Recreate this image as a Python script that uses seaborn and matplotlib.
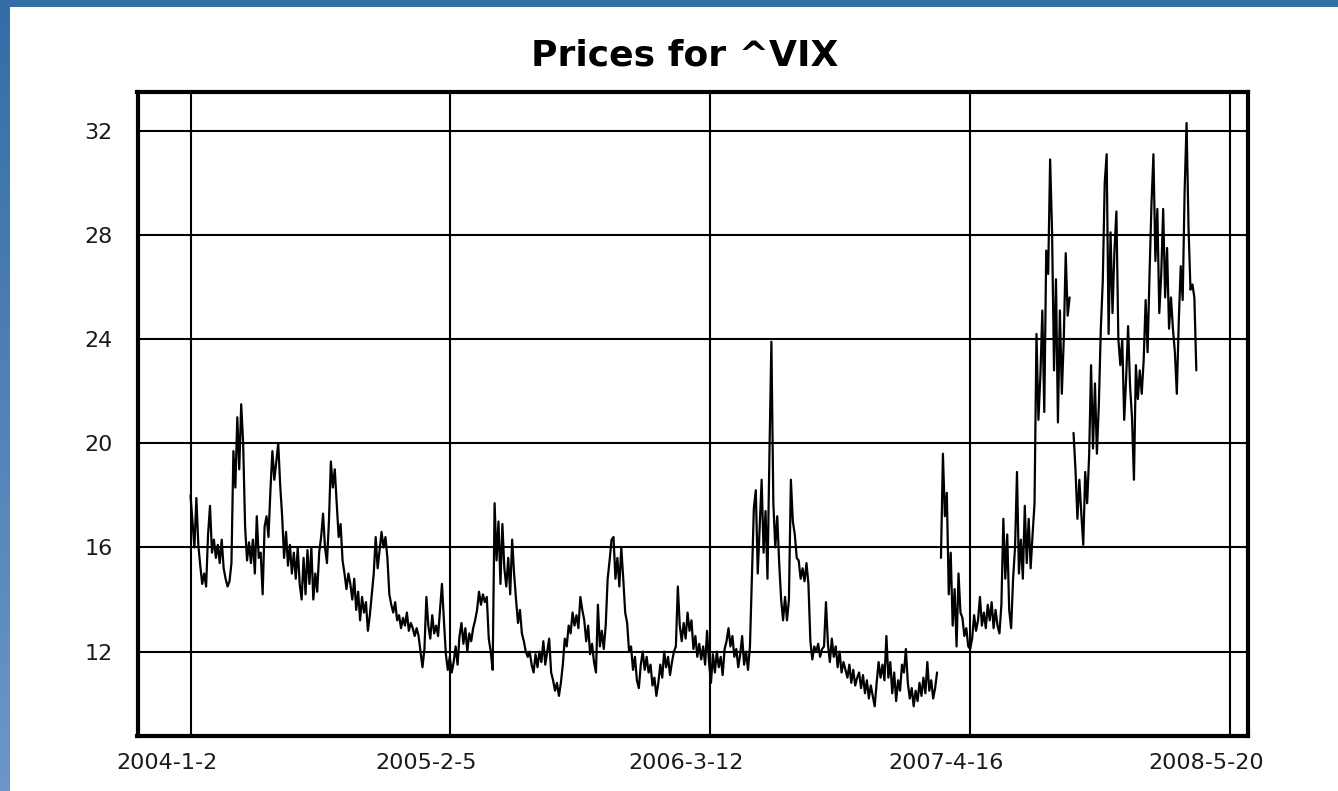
import numpy as np
import pandas as pd
import matplotlib
matplotlib.use("Agg")
import matplotlib.pyplot as plt
import matplotlib.transforms as mtransforms
from matplotlib.patches import Rectangle
import seaborn as sns

nan = float("nan")

# VIX closes, one value every 3 calendar days from 2004-01-02
vix_2004 = [
    18.0, 17.0, 16.0, 17.9, 16.1, 15.3, 14.6, 15.0, 14.5, 16.5,
    17.6, 15.8, 16.3, 15.6, 16.1, 15.4, 16.3, 15.2, 14.8, 14.5,
    14.7, 15.4, 19.7, 18.3, 21.0, 19.0, 21.5, 20.0, 16.8, 15.5,
    16.2, 15.4, 16.3, 15.0, 17.2, 15.6, 15.8, 14.2, 16.8, 17.2,
    16.4, 18.2, 19.7, 18.6, 19.3, 20.0, 18.4, 17.2, 15.6, 16.6,
    15.3, 16.1, 15.0, 15.8, 14.8, 16.0, 14.6, 14.0, 15.6, 14.2,
    15.9, 14.6, 16.0, 14.0, 15.0, 14.3, 15.8, 16.4, 17.3, 16.0,
    15.4, 17.0, 19.3, 18.3, 19.0, 17.7, 16.4, 16.9, 15.5, 15.0,
    14.4, 15.0, 14.6, 14.0, 14.8, 13.6, 14.3, 13.2, 14.1, 13.5,
    13.9, 12.8, 13.4, 14.2, 15.0, 16.4, 15.2, 15.9, 16.6, 16.0,
    16.4, 15.6, 14.2, 13.8, 13.5, 13.9, 13.2, 13.4, 12.9, 13.3,
    13.0, 13.5, 12.8, 13.1, 12.9, 12.6, 12.9, 12.6, 12.0, 11.4,
    12.1, 14.1,
]
vix_2005 = [
    13.0, 12.5, 13.4, 12.7, 13.0, 12.6, 13.6, 14.6,
    13.2, 11.9, 11.3, 11.8, 11.2, 11.6, 12.2, 11.5, 12.6, 13.1,
    12.3, 12.9, 12.0, 12.7, 12.4, 12.9, 13.2, 13.6, 14.3, 13.8,
    14.2, 13.9, 14.1, 12.5, 12.0, 11.3, 17.7, 15.5, 17.0, 14.6,
    16.9, 15.2, 14.5, 15.6, 14.2, 16.3, 15.0, 14.0, 13.1, 13.6,
    12.7, 12.4, 12.0, 11.8, 12.0, 11.5, 11.2, 11.9, 11.4, 12.0,
    11.6, 12.4, 11.5, 12.0, 12.5, 11.2, 10.9, 10.5, 10.8, 10.3,
    10.8, 11.5, 12.5, 12.2, 13.0, 12.7, 13.5, 13.0, 13.4, 12.9,
    14.1, 13.6, 13.2, 12.4, 13.0, 11.9, 12.3, 11.6, 11.2, 13.8,
    12.2, 12.8, 12.1, 13.0, 14.8, 15.5, 16.3, 16.4, 14.8, 15.6,
    14.5, 16.0, 14.8, 13.5, 13.1, 12.0, 12.2, 11.3, 11.8, 10.9,
    10.6, 11.5, 12.0, 11.3, 11.8, 11.2, 11.5, 10.7, 11.0, 10.3,
    10.8, 11.5, 11.0, 12.0,
]
vix_2006 = [
    11.4, 11.8, 11.1, 11.6, 12.0, 12.2,
    14.5, 13.0, 12.4, 13.1, 12.5, 13.5, 12.8, 13.2, 12.1, 12.6,
    11.8, 12.3, 11.7, 12.2, 11.5, 12.8, 11.6, 10.8, 11.9, 11.2,
    12.0, 11.4, 11.8, 11.1, 12.1, 12.4, 12.9, 12.2, 12.6, 11.8,
    12.1, 11.4, 11.9, 12.6, 11.5, 12.0, 11.3, 12.2, 14.8, 17.5,
    18.2, 15.0, 16.8, 18.6, 15.8, 17.4, 14.8, 19.6, 23.9, 17.7,
    16.0, 17.2, 15.4, 14.0, 13.2, 14.1, 13.2, 14.0, 18.6, 17.0,
    16.5, 15.6, 15.5, 14.8, 15.2, 14.7, 15.4, 14.6, 12.4, 11.7,
    12.2, 12.0, 12.3, 11.8, 12.1, 12.2, 13.9, 12.3, 11.6, 12.5,
    11.8, 12.2, 11.4, 12.0, 11.2, 11.6, 11.3, 11.0, 11.5, 10.8,
    11.3, 10.7, 11.0, 11.2, 10.6, 11.1, 10.4, 10.9, 10.2, 10.7,
    10.3, 9.9, 10.8, 11.6, 11.0, 11.5, 10.9, 12.6, 11.0, 11.6,
    10.4, 11.2, 10.1, 10.9, 10.5, 11.5,
]
vix_2007 = [
    11.2, 12.1, 10.8, 10.2,
    10.6, 9.9, 10.5, 10.1, 10.8, 10.3, 11.0, 10.4, 11.6, 10.5,
    10.9, 10.2, 10.6, 11.2, nan, 15.6, 19.6, 17.2, 18.1, 14.2,
    15.8, 13.0, 14.4, 12.2, 15.0, 13.5, 13.3, 12.6, 12.9, 12.2,
    12.1, 12.5, 13.4, 12.8, 13.2, 14.1, 13.0, 13.5, 12.9, 13.8,
    13.2, 13.9, 12.9, 13.6, 13.0, 12.7, 13.8, 17.1, 14.8, 16.5,
    13.6, 12.9, 14.8, 16.0, 18.9, 15.0, 16.3, 14.8, 17.6, 15.4,
    17.1, 15.2, 16.5, 17.7, 24.2, 20.9, 22.6, 25.1, 21.2, 27.4,
    26.5, 30.9, 28.1, 22.8, 26.3, 20.8, 25.1, 21.9, 24.0, 27.3,
    24.9, 25.6, nan, 20.4, 19.0, 17.1, 18.6, 17.3, 16.1, 18.9,
    17.7, 19.5, 23.0, 19.8, 22.3, 19.6, 21.5, 24.4, 26.2, 30.0,
    31.1, 24.2, 28.1, 25.0, 27.4, 28.9, 24.0, 23.0, 24.0, 20.9,
    22.5, 24.5, 22.2, 21.0, 18.6, 23.0, 21.7,
]
vix_2008 = [
    22.8, 21.9, 23.2,
    25.5, 23.5, 26.5, 29.2, 31.1, 27.0, 29.0, 25.0, 26.5, 29.0,
    25.6, 27.5, 24.4, 25.6, 24.4, 23.5, 21.9, 24.7, 26.8, 25.5,
    29.7, 32.3, 28.3, 25.9, 26.1, 25.6, 22.8,
]

start_date = "2004-01-02"
sample_step = "3D"
tick_dates = ["2004-01-02", "2005-02-05", "2006-03-12", "2007-04-16", "2008-05-20"]
tick_labels = ["2004-1-2", "2005-2-5", "2006-3-12", "2007-4-16", "2008-5-20"]
y_ticks = [12, 16, 20, 24, 28, 32]
title = "Prices for ^VIX"

values = vix_2004 + vix_2005 + vix_2006 + vix_2007 + vix_2008
dates = pd.date_range(start_date, periods=len(values), freq=sample_step)
df = pd.DataFrame({"date": dates, "vix": values})
df["segment"] = df["vix"].isna().cumsum()
df = df.dropna().reset_index(drop=True)

sns.set_style("white")
plt.rcParams["font.family"] = ["DejaVu Sans"]

W, H = 1338, 791
fig = plt.figure(figsize=(W / 100, H / 100), dpi=100)
fig.patch.set_facecolor("white")

# blue frame of the page
fig.add_artist(Rectangle((0, 1 - 7 / H), 1, 7 / H, transform=fig.transFigure,
                         facecolor=(52 / 255, 110 / 255, 166 / 255), edgecolor="none", zorder=0))
gax = fig.add_axes([0, 0, 10 / W, 1 - 7 / H])
top_c = np.array([52, 110, 166]) / 255
bot_c = np.array([108, 150, 200]) / 255
t = np.linspace(0, 1, 256)[:, None]
grad = (top_c[None, :] * (1 - t) + bot_c[None, :] * t)[:, None, :]
gax.imshow(grad, aspect="auto", extent=(0, 1, 0, 1))
gax.axis("off")

ax = fig.add_axes([137.5 / W, (H - 736) / H, (1248.3 - 137.5) / W, (736 - 92) / H])
sns.lineplot(data=df, x="date", y="vix", units="segment", estimator=None,
             color="black", lw=1.6, ax=ax, legend=False, zorder=3)

t0 = pd.Timestamp(start_date)
ax.set_xlim(t0 - pd.Timedelta(days=81.6), t0 + pd.Timedelta(days=1628))
ax.set_ylim(8.76, 33.49)
ax.set_xticks(pd.to_datetime(tick_dates))
ax.set_xticklabels(tick_labels)
ax.set_yticks(y_ticks)
ax.set_yticklabels([str(v) for v in y_ticks])
ax.set_xlabel("")
ax.set_ylabel("")
ax.grid(True, color="black", lw=1.5)
for s in ax.spines.values():
    s.set_visible(True)
    s.set_color("black")
    s.set_linewidth(3)
ax.tick_params(axis="both", length=0, labelsize=16, labelcolor="#1a1a1a")
ax.tick_params(axis="x", pad=12)
ax.tick_params(axis="y", pad=18)
offset = mtransforms.ScaledTranslation(-24 / 100, 0, fig.dpi_scale_trans)
for lab in ax.get_xticklabels():
    lab.set_transform(lab.get_transform() + offset)

fig.text(685 / W, 1 - 56 / H, title, ha="center", va="center",
         fontsize=26, fontweight="bold", color="black")

fig.savefig("out.png", dpi=100)
